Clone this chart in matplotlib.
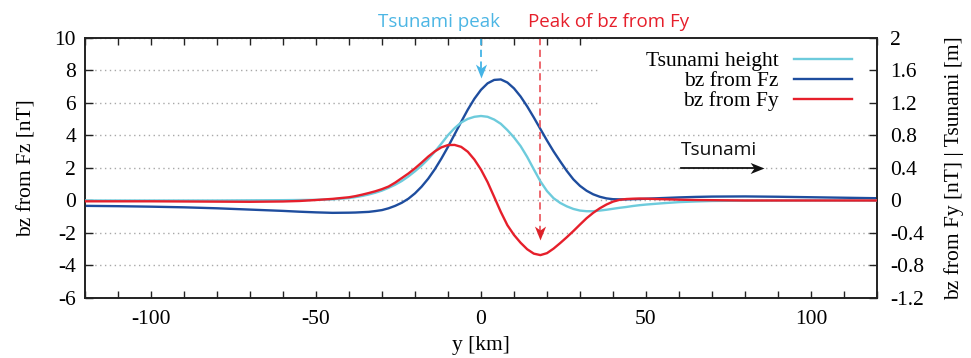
import numpy as np
import matplotlib
matplotlib.use("Agg")
import matplotlib.pyplot as plt
from matplotlib.path import Path
from matplotlib.patches import Rectangle
from matplotlib.ticker import FuncFormatter, MultipleLocator

plt.rcParams['axes.unicode_minus'] = False

# ---- data ----
y_km = [-120, -110, -100, -90, -80, -70, -60, -55, -50, -45,
        -40, -38, -36, -34, -32, -30, -28, -26, -24, -22, -20, -18, -16, -14, -12,
        -10, -8, -6, -4, -2, 0, 2, 4, 6, 8, 10, 12, 14, 16, 18, 20, 22, 24, 26, 28,
        30, 32, 34, 36, 38, 40, 42, 44, 46, 48, 50,
        55, 60, 65, 70, 80, 90, 100, 110, 120]

# bz from Fz [nT] (left axis)
bz_fz = [-0.33, -0.35, -0.38, -0.42, -0.48, -0.56, -0.64, -0.69, -0.73, -0.76,
         -0.75, -0.74, -0.72, -0.70, -0.65, -0.59, -0.48, -0.33, -0.14, 0.11, 0.44,
         0.85, 1.34, 1.92, 2.58, 3.30, 4.07, 4.84, 5.59, 6.26, 6.81, 7.21, 7.42, 7.45,
         7.26, 6.90, 6.40, 5.79, 5.11, 4.40, 3.69, 3.02, 2.41, 1.82, 1.30, 0.90, 0.60,
         0.38, 0.23, 0.13, 0.08, 0.07, 0.07, 0.08, 0.09, 0.11,
         0.15, 0.19, 0.22, 0.24, 0.25, 0.23, 0.20, 0.17, 0.14]

# Tsunami height [m] (right axis)
tsunami = [0.000, 0.000, 0.000, 0.000, 0.000, 0.002, 0.004, 0.006, 0.008, 0.014,
           0.030, 0.042, 0.056, 0.074, 0.096, 0.122, 0.156, 0.194, 0.240, 0.296, 0.360,
           0.430, 0.510, 0.600, 0.700, 0.804, 0.890, 0.960, 1.004, 1.030, 1.040, 1.030,
           0.996, 0.944, 0.866, 0.776, 0.670, 0.536, 0.384, 0.236, 0.116, 0.028, -0.030,
           -0.072, -0.104, -0.124, -0.132, -0.132, -0.124, -0.114, -0.102, -0.090,
           -0.080, -0.068, -0.058, -0.050,
           -0.034, -0.020, -0.012, -0.006, -0.002, 0.000, 0.000, 0.000, 0.000]

# bz from Fy [nT] (right axis)
bz_fy = [-0.010, -0.010, -0.010, -0.012, -0.014, -0.016, -0.012, -0.006, 0.006, 0.020,
         0.040, 0.054, 0.072, 0.092, 0.114, 0.140, 0.172, 0.220, 0.276, 0.332, 0.396,
         0.466, 0.540, 0.604, 0.654, 0.682, 0.684, 0.660, 0.600, 0.504, 0.380, 0.226,
         0.044, -0.140, -0.304, -0.424, -0.520, -0.600, -0.654, -0.672, -0.648, -0.592,
         -0.524, -0.452, -0.376, -0.296, -0.218, -0.152, -0.096, -0.050, -0.014, 0.008,
         0.018, 0.022, 0.024, 0.022,
         0.016, 0.010, 0.006, 0.004, 0.000, 0.000, 0.000, 0.000, 0.000]

labels = ["Tsunami height", "bz from Fz", "bz from Fy"]
colors = ["#6dcbdc", "#1e4d9e", "#e61f2b"]

x = np.array(y_km)
fz = np.array(bz_fz)
ts = np.array(tsunami)
fy = np.array(bz_fy)

fig = plt.figure(figsize=(9.71, 3.58), dpi=100)
ax = fig.add_axes([0.0875, 0.1676, 0.8157, 0.7263])
ax2 = ax.twinx()

serif = "Liberation Serif"
sans = "Open Sans"
fs = 15.5

ax.set_xlim(-120, 120)
ax.set_ylim(-6, 10)
ax2.set_ylim(-1.2, 2)

ax.set_yticks(np.arange(-6, 11, 2))
ax2.set_yticks(np.round(np.arange(-1.2, 2.01, 0.4), 1))
ax.xaxis.set_major_locator(MultipleLocator(50))
ax.xaxis.set_minor_locator(MultipleLocator(10))
ax2.yaxis.set_major_formatter(FuncFormatter(lambda v, p: "%g" % round(v, 1)))

ax.yaxis.grid(True, linestyle=(0, (1, 2.5)), color="#a8a8a8", lw=1.0)
ax.set_axisbelow(True)

for a in (ax, ax2):
    for s in a.spines.values():
        s.set_linewidth(1.2)
        s.set_color("#222222")
ax.tick_params(axis="both", which="both", direction="in", top=True, right=False,
               labelsize=fs, width=1.0, color="#222222")
ax.tick_params(axis="x", which="both", length=5, pad=9)
ax.tick_params(axis="y", which="major", length=6, pad=6.5)
ax2.tick_params(axis="y", direction="in", length=6, width=1.0, labelsize=fs,
                color="#222222", pad=9.5)
for lab in ax.get_xticklabels() + ax.get_yticklabels() + ax2.get_yticklabels():
    lab.set_fontfamily(serif)

ax.set_xlabel("y [km]", fontfamily=serif, fontsize=fs, labelpad=5)
ax.set_ylabel("bz from Fz [nT]", fontfamily=serif, fontsize=fs, labelpad=13)
ax2.set_ylabel("bz from Fy [nT] | Tsunami [m]", fontfamily=serif, fontsize=fs,
               labelpad=14)

# white area behind the key (covers the grid like the reference key box)
ax.add_patch(Rectangle((0.648, 0.715), 0.36, 0.29, transform=ax.transAxes,
                       facecolor="white", edgecolor="none", zorder=1.5))

l1, = ax2.plot(x, ts, color=colors[0], lw=1.7, label=labels[0], zorder=3)
l2, = ax.plot(x, fz, color=colors[1], lw=1.7, label=labels[1], zorder=3)
l3, = ax2.plot(x, fy, color=colors[2], lw=1.7, label=labels[2], zorder=4)

leg = ax2.legend(handles=[l1, l2, l3], loc="upper right", markerfirst=False,
                 frameon=False, prop={"family": serif, "size": fs},
                 handlelength=2.7, handletextpad=0.7, labelspacing=0.0,
                 borderpad=0.0, bbox_to_anchor=(0.968, 0.95), borderaxespad=0.0)

# notched arrow heads
head_down = Path([(0, 0), (-0.4, 1), (0, 0.72), (0.4, 1), (0, 0)],
                 [Path.MOVETO, Path.LINETO, Path.LINETO, Path.LINETO, Path.CLOSEPOLY])
head_right = Path([(0, 0), (-1, 0.4), (-0.72, 0), (-1, -0.4), (0, 0)],
                  [Path.MOVETO, Path.LINETO, Path.LINETO, Path.LINETO, Path.CLOSEPOLY])

ts_peak_x = x[np.argmax(ts)]
fy_peak_x = x[np.argmin(fy)]

# Tsunami peak arrow
ax.plot([ts_peak_x, ts_peak_x], [10, 8.1], color="#44b4e6", lw=1.3,
        linestyle=(0, (4, 2.5)), zorder=5, clip_on=False)
ax.plot([ts_peak_x], [7.56], marker=head_down, markersize=20, color="#44b4e6",
        markeredgewidth=0, zorder=6, clip_on=False)
# Fy peak arrow
ax.plot([fy_peak_x, fy_peak_x], [10, -1.9], color="#ec5d63", lw=1.3,
        linestyle=(0, (4, 2.5)), zorder=5, clip_on=False)
ax.plot([fy_peak_x], [-2.44], marker=head_down, markersize=20, color="#dd2128",
        markeredgewidth=0, zorder=6, clip_on=False)

ax.text(-12.6, 1.0615, "Tsunami peak", transform=ax.get_xaxis_transform(),
        ha="center", va="center", fontsize=13.5, family=sans, color="#4cb6e4")
ax.text(38.6, 1.0615, "Peak of bz from Fy", transform=ax.get_xaxis_transform(),
        ha="center", va="center", fontsize=13.5, family=sans, color="#e61f2b")

# Tsunami direction arrow
ax.plot([60.7, 84], [2.0, 2.0], color="#111111", lw=1.3, zorder=5)
ax.plot([85.8], [2.0], marker=head_right, markersize=20, color="#111111",
        markeredgewidth=0, zorder=6)
ax.text(60.5, 3.1, "Tsunami", ha="left", va="center", fontsize=13.8, family=sans,
        color="#111111")

fig.savefig("out.png", dpi=100)
